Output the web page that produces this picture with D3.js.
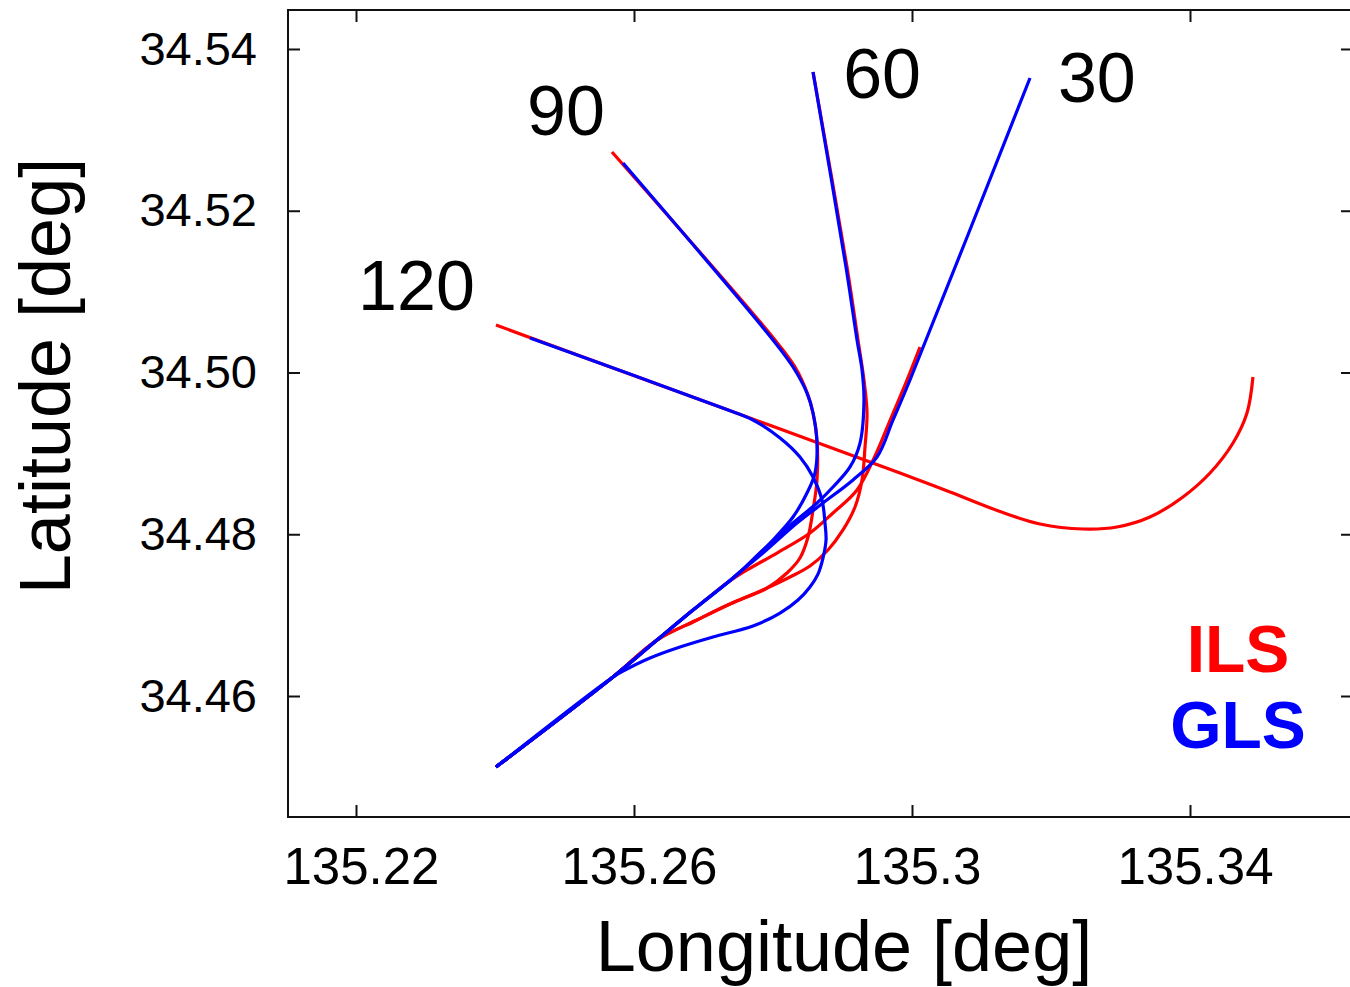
<!DOCTYPE html>
<html>
<head>
<meta charset="utf-8">
<script src="https://cdn.jsdelivr.net/npm/d3@7"></script>
<style>
  body { margin: 0; background: #fff; }
  text { font-family: "Liberation Sans", Arial, Helvetica, sans-serif; }
</style>
</head>
<body>
<div id="chart"></div>
<script>
// ticks
var lonTicks = [135.22, 135.26, 135.30, 135.34];
var lonTickLabels = ["135.22", "135.26", "135.3", "135.34"];
var latTicks = [34.46, 34.48, 34.50, 34.52, 34.54];
var latTickLabels = ["34.46", "34.48", "34.50", "34.52", "34.54"];

// intercept angles, used for the labels
var angles = ["120", "90", "60", "30"];
var angleLabelLon = [135.2203, 135.2446, 135.2901, 135.3210];
var angleLabelLat = [34.5077, 34.5294, 34.5339, 34.5335];

// shared pieces of the tracks [lon, lat]
var finalLeg = [[135.25698, 34.46235], [135.24014, 34.45122]];
var glsMerge = [[135.27525, 34.47533], [135.27338, 34.47397], [135.26849, 34.47063], [135.26331, 34.46692]];
var ilsMerge = [[135.27381, 34.47138], [135.26906, 34.46940], [135.26331, 34.46692]];

// ILS tracks (red)
var ils30 = [[135.30115, 34.50315], [135.29928, 34.49907], [135.29698, 34.49437], [135.29468, 34.48968],
  [135.29209, 34.48547], [135.28863, 34.48263], [135.28532, 34.48015], [135.28058, 34.47768],
  [135.27626, 34.47558], [135.27338, 34.47397], [135.26849, 34.47063], [135.26331, 34.46692]];
var ils60 = [[135.28576, 34.53716], [135.29065, 34.51304], [135.29223, 34.50402], [135.29309, 34.49907],
  [135.29353, 34.49499], [135.29324, 34.49079], [135.29281, 34.48671], [135.29180, 34.48337],
  [135.29007, 34.48053], [135.28791, 34.47805], [135.28532, 34.47607], [135.28245, 34.47471],
  [135.27914, 34.47335]];
var ils90 = [[135.25683, 34.52726], [135.28029, 34.50402], [135.28317, 34.50068], [135.28504, 34.49722],
  [135.28576, 34.49499], [135.28633, 34.49165], [135.28633, 34.48671], [135.28576, 34.48300],
  [135.28504, 34.47966], [135.28388, 34.47706], [135.28201, 34.47521], [135.27914, 34.47335]];
var ils120 = [[135.24014, 34.50587], [135.27237, 34.49573], [135.29827, 34.48757], [135.30547, 34.48522],
  [135.31266, 34.48281], [135.31842, 34.48127], [135.32460, 34.48065], [135.32950, 34.48090],
  [135.33424, 34.48213], [135.33899, 34.48461], [135.34288, 34.48757], [135.34619, 34.49128],
  [135.34820, 34.49499], [135.34906, 34.49944]];

// GLS tracks (blue)
var gls30 = [[135.31698, 34.53641], [135.29971, 34.49907], [135.29727, 34.49413], [135.29496, 34.48955],
  [135.29151, 34.48671], [135.28719, 34.48386], [135.28345, 34.48139], [135.27856, 34.47768]];
var gls60 = [[135.28576, 34.53716], [135.29050, 34.51304], [135.29209, 34.50402], [135.29281, 34.50031],
  [135.29309, 34.49660], [135.29252, 34.49128], [135.29108, 34.48832], [135.28863, 34.48584],
  [135.28633, 34.48386], [135.28288, 34.48139], [135.27856, 34.47805]];
var gls90 = [[135.25842, 34.52590], [135.28000, 34.50402], [135.28288, 34.50068], [135.28489, 34.49746],
  [135.28576, 34.49499], [135.28633, 34.49128], [135.28604, 34.48757], [135.28489, 34.48510],
  [135.28288, 34.48213], [135.28000, 34.47929], [135.27741, 34.47706]];
var gls120 = [[135.24504, 34.50427], [135.27237, 34.49573], [135.27712, 34.49413], [135.28101, 34.49190],
  [135.28388, 34.48955], [135.28576, 34.48708], [135.28705, 34.48424], [135.28748, 34.48139],
  [135.28763, 34.47929], [135.28719, 34.47706], [135.28647, 34.47508], [135.28532, 34.47348],
  [135.28360, 34.47187], [135.28101, 34.47026], [135.27712, 34.46866], [135.27137, 34.46730],
  [135.26662, 34.46606], [135.26230, 34.46470], [135.25871, 34.46321]];

var ilsTracks = [
  ils30.concat(finalLeg),
  ils60.concat(ilsMerge, finalLeg),
  ils90.concat(ilsMerge, finalLeg),
  ils120
];
var glsTracks = [
  gls30.concat(glsMerge, finalLeg),
  gls60.concat(glsMerge, finalLeg),
  gls90.concat(glsMerge, finalLeg),
  gls120.concat(finalLeg)
];

var width = 1350, height = 987;
var plotLeft = 288, plotTop = 10, plotRight = 1353, plotBottom = 817;

var svg = d3.select("#chart").append("svg")
  .attr("width", width)
  .attr("height", height);

var x = d3.scaleLinear().domain([135.210216, 135.363453]).range([plotLeft, plotRight]);
var y = d3.scaleLinear().domain([34.44504, 34.54482]).range([plotBottom, plotTop]);

var plot = svg.append("g");

// tracks, ILS under GLS
var line = d3.line()
  .x(function (d) { return x(d[0]); })
  .y(function (d) { return y(d[1]); })
  .curve(d3.curveCatmullRom.alpha(0.5));

plot.selectAll("path.ils")
  .data(ilsTracks)
  .enter().append("path")
  .attr("class", "ils")
  .attr("d", line)
  .attr("fill", "none")
  .attr("stroke", "#ff0000")
  .attr("stroke-width", 3.2)
  .attr("stroke-linejoin", "round");

plot.selectAll("path.gls")
  .data(glsTracks)
  .enter().append("path")
  .attr("class", "gls")
  .attr("d", line)
  .attr("fill", "none")
  .attr("stroke", "#0000ff")
  .attr("stroke-width", 3.2)
  .attr("stroke-linejoin", "round");

// frame
svg.append("rect")
  .attr("x", plotLeft).attr("y", plotTop)
  .attr("width", plotRight - plotLeft).attr("height", plotBottom - plotTop)
  .attr("fill", "none")
  .attr("stroke", "#111")
  .attr("stroke-width", 2);

// axes, ticks pointing inward
var xAxis = d3.axisBottom(x)
  .tickValues(lonTicks)
  .tickFormat(function (d, i) { return lonTickLabels[i]; })
  .tickSizeInner(-12).tickSizeOuter(0).tickPadding(31);
var yAxis = d3.axisLeft(y)
  .tickValues(latTicks)
  .tickFormat(function (d, i) { return latTickLabels[i]; })
  .tickSizeInner(-12).tickSizeOuter(0).tickPadding(31);

var gx = svg.append("g").attr("transform", "translate(0," + plotBottom + ")").call(xAxis);
var gy = svg.append("g").attr("transform", "translate(" + plotLeft + ",0)").call(yAxis);
svg.append("g").attr("transform", "translate(0," + plotTop + ")")
  .call(d3.axisTop(x).tickValues(lonTicks).tickFormat("").tickSizeInner(-12).tickSizeOuter(0));
svg.append("g").attr("transform", "translate(" + plotRight + ",0)")
  .call(d3.axisRight(y).tickValues(latTicks).tickFormat("").tickSizeInner(-12).tickSizeOuter(0));

svg.selectAll(".domain").remove();
svg.selectAll(".tick line").attr("stroke", "#111").attr("stroke-width", 2);

gx.selectAll("text")
  .attr("font-size", 51)
  .attr("font-family", "'Liberation Sans', Arial, sans-serif")
  .attr("fill", "#000")
  .attr("dx", 5);
gy.selectAll("text")
  .attr("font-size", 47)
  .attr("font-family", "'Liberation Sans', Arial, sans-serif")
  .attr("fill", "#000");

// axis titles
svg.append("text")
  .attr("x", 844).attr("y", 971)
  .attr("text-anchor", "middle")
  .attr("font-size", 72)
  .text("Longitude [deg]");

svg.append("text")
  .attr("transform", "translate(70,376) rotate(-90)")
  .attr("text-anchor", "middle")
  .attr("font-size", 72)
  .text("Latitude [deg]");

// angle labels
plot.selectAll("text.angle")
  .data(angles)
  .enter().append("text")
  .attr("class", "angle")
  .attr("x", function (d, i) { return x(angleLabelLon[i]); })
  .attr("y", function (d, i) { return y(angleLabelLat[i]); })
  .attr("font-size", 70)
  .text(function (d) { return d; });

// legend
var legend = svg.append("g").attr("transform", "translate(1238,0)");
legend.append("text")
  .attr("y", 672)
  .attr("text-anchor", "middle")
  .attr("font-size", 66)
  .attr("font-weight", "bold")
  .attr("fill", "#ff0000")
  .text("ILS");
legend.append("text")
  .attr("y", 748)
  .attr("text-anchor", "middle")
  .attr("font-size", 66)
  .attr("font-weight", "bold")
  .attr("fill", "#0000ff")
  .text("GLS");
</script>
</body>
</html>
